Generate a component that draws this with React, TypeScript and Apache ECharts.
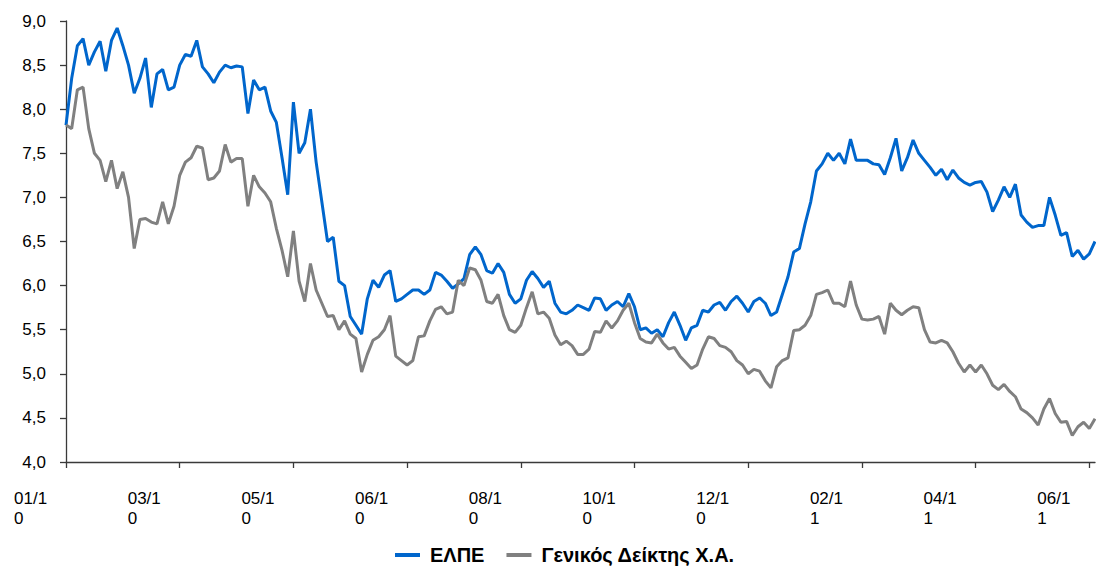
import React, { useEffect, useRef } from 'react';
import * as echarts from 'echarts';

const TICK_LABELS = ['01/10', '03/10', '05/10', '06/10', '08/10', '10/10', '12/10', '02/11', '04/11', '06/11'];
const POINTS_PER_TICK = 20;
const SERIES_NAMES = ['ΕΛΠΕ', 'Γενικός Δείκτης Χ.Α.'];

const ELPE = [
  7.82, 8.35, 8.72, 8.8, 8.5, 8.65, 8.77, 8.43, 8.78, 8.92,
  8.72, 8.5, 8.18, 8.35, 8.58, 8.02, 8.4, 8.45, 8.22, 8.25,
  8.5, 8.62, 8.6, 8.78, 8.48, 8.4, 8.3, 8.42, 8.5, 8.47,
  8.49, 8.48, 7.95, 8.33, 8.22, 8.25, 7.98, 7.85, 7.45, 7.03,
  8.08, 7.5, 7.62, 8.0, 7.4, 6.95, 6.5, 6.55, 6.05, 6.0,
  5.65, 5.55, 5.45, 5.85, 6.06, 5.98, 6.12, 6.17, 5.82, 5.85,
  5.9, 5.95, 5.95, 5.9, 5.95, 6.15, 6.12, 6.05, 5.97, 6.02,
  6.08, 6.35, 6.44, 6.35, 6.17, 6.14, 6.25, 6.15, 5.9, 5.8,
  5.85, 6.06, 6.16, 6.08, 5.98, 6.05, 5.8, 5.7, 5.68, 5.72,
  5.78, 5.75, 5.72, 5.86, 5.85, 5.72, 5.78, 5.82, 5.76, 5.91,
  5.76, 5.5, 5.52, 5.46, 5.5, 5.42, 5.58, 5.7, 5.55, 5.38,
  5.52, 5.55, 5.72, 5.7, 5.78, 5.81, 5.72, 5.82, 5.88, 5.8,
  5.7, 5.82, 5.86, 5.8, 5.66, 5.7, 5.9, 6.1, 6.38, 6.42,
  6.7, 6.95, 7.3, 7.38, 7.5, 7.42, 7.5, 7.38, 7.66, 7.42,
  7.42, 7.42, 7.38, 7.37, 7.26, 7.45, 7.67, 7.3, 7.45, 7.65,
  7.5, 7.42, 7.34, 7.25, 7.32, 7.2, 7.31, 7.22, 7.17, 7.14,
  7.17, 7.18, 7.06, 6.84, 6.97, 7.12, 7.0, 7.15, 6.8, 6.72,
  6.66, 6.68, 6.68, 7.0, 6.8, 6.57, 6.6, 6.33, 6.4, 6.3,
  6.36, 6.5,
];

const GENERAL_INDEX = [
  7.82, 7.78, 8.22, 8.25, 7.78, 7.5, 7.42, 7.18, 7.42, 7.1,
  7.29, 7.0, 6.42, 6.75, 6.76, 6.72, 6.7, 6.95, 6.7, 6.9,
  7.25, 7.4, 7.45, 7.58, 7.56, 7.2, 7.22, 7.3, 7.6, 7.4,
  7.44, 7.44, 6.9, 7.25, 7.12, 7.05, 6.95, 6.65, 6.4, 6.1,
  6.62, 6.05, 5.82, 6.25, 5.95, 5.8, 5.65, 5.66, 5.5, 5.6,
  5.45, 5.4, 5.02, 5.22, 5.38, 5.42, 5.5, 5.66, 5.2, 5.15,
  5.1, 5.15, 5.42, 5.43, 5.6, 5.73, 5.76, 5.68, 5.7, 6.06,
  6.0, 6.2, 6.18, 6.06, 5.82, 5.8, 5.9, 5.66, 5.5, 5.47,
  5.55, 5.75, 5.93, 5.68, 5.7, 5.63, 5.44, 5.33, 5.37, 5.32,
  5.22, 5.22, 5.28, 5.48, 5.47, 5.6, 5.52, 5.6, 5.72, 5.8,
  5.58, 5.4, 5.36, 5.35, 5.45, 5.35, 5.28, 5.3, 5.2, 5.13,
  5.06, 5.1, 5.28, 5.42, 5.4, 5.32, 5.3, 5.25, 5.15, 5.1,
  5.0, 5.05, 5.03, 4.92, 4.84, 5.08, 5.15, 5.18, 5.49, 5.5,
  5.55, 5.66, 5.9, 5.92, 5.95, 5.8, 5.8, 5.76, 6.05, 5.78,
  5.62, 5.61, 5.62, 5.65, 5.45, 5.8, 5.72, 5.67, 5.72, 5.76,
  5.75, 5.5, 5.36, 5.35, 5.38, 5.35, 5.25, 5.12, 5.02, 5.1,
  5.02, 5.1, 5.0, 4.87, 4.82, 4.88, 4.8, 4.74, 4.6, 4.56,
  4.5, 4.42, 4.6, 4.72, 4.55, 4.45, 4.46, 4.3, 4.4, 4.45,
  4.38, 4.49,
];

const CATEGORIES = ELPE.map((_, i) =>
  i % POINTS_PER_TICK === 0 ? TICK_LABELS[i / POINTS_PER_TICK] || '' : ''
);

const FONT = '"Liberation Sans", Arial, sans-serif';

export default function App() {
  const ref = useRef<HTMLDivElement>(null);

  useEffect(() => {
    document.body.style.margin = '0';
    if (!ref.current) return;
    const chart = echarts.init(ref.current, null, { renderer: 'svg' });
    chart.setOption({
      animation: false,
      backgroundColor: '#ffffff',
      grid: { left: 66, right: 1, top: 21, bottom: 108 },
      legend: {
        left: 390,
        top: 540,
        itemWidth: 25,
        itemHeight: 4,
        itemGap: 22,
        icon: 'rect',
        data: SERIES_NAMES,
        textStyle: { fontFamily: FONT, fontSize: 20, fontWeight: 'bold', color: '#000', padding: [0, 0, 0, 5] },
      },
      xAxis: {
        type: 'category',
        data: CATEGORIES,
        boundaryGap: false,
        axisLine: { show: true, lineStyle: { color: '#3a3a3a', width: 1.3 } },
        axisTick: { show: true, interval: POINTS_PER_TICK - 1, length: 6, lineStyle: { color: '#3a3a3a', width: 1.3 } },
        axisLabel: {
          interval: POINTS_PER_TICK - 1,
          formatter: (v: string) => v.slice(0, 4) + '\n' + v.slice(4),
          align: 'left',
          padding: [0, 0, 0, -52],
          margin: 26,
          lineHeight: 20,
          fontSize: 17,
          fontFamily: FONT,
          color: '#000',
        },
        splitLine: { show: false },
      },
      yAxis: {
        type: 'value',
        min: 4,
        max: 9,
        interval: 0.5,
        axisLine: { show: true, lineStyle: { color: '#3a3a3a', width: 1.3 } },
        axisTick: { show: true, length: 6, lineStyle: { color: '#3a3a3a', width: 1.3 } },
        axisLabel: {
          formatter: (v: number) => v.toFixed(1).replace('.', ','),
          margin: 20,
          fontSize: 17,
          fontFamily: FONT,
          color: '#000',
        },
        splitLine: { show: false },
      },
      series: [
        {
          name: SERIES_NAMES[0],
          type: 'line',
          data: ELPE,
          showSymbol: false,
          symbol: 'none',
          lineStyle: { color: '#0066CC', width: 3 },
          itemStyle: { color: '#0066CC' },
        },
        {
          name: SERIES_NAMES[1],
          type: 'line',
          data: GENERAL_INDEX,
          showSymbol: false,
          symbol: 'none',
          lineStyle: { color: '#808080', width: 3 },
          itemStyle: { color: '#808080' },
        },
      ],
    });
    return () => chart.dispose();
  }, []);

  return <div ref={ref} style={{ width: 1096, height: 570 }} />;
}
